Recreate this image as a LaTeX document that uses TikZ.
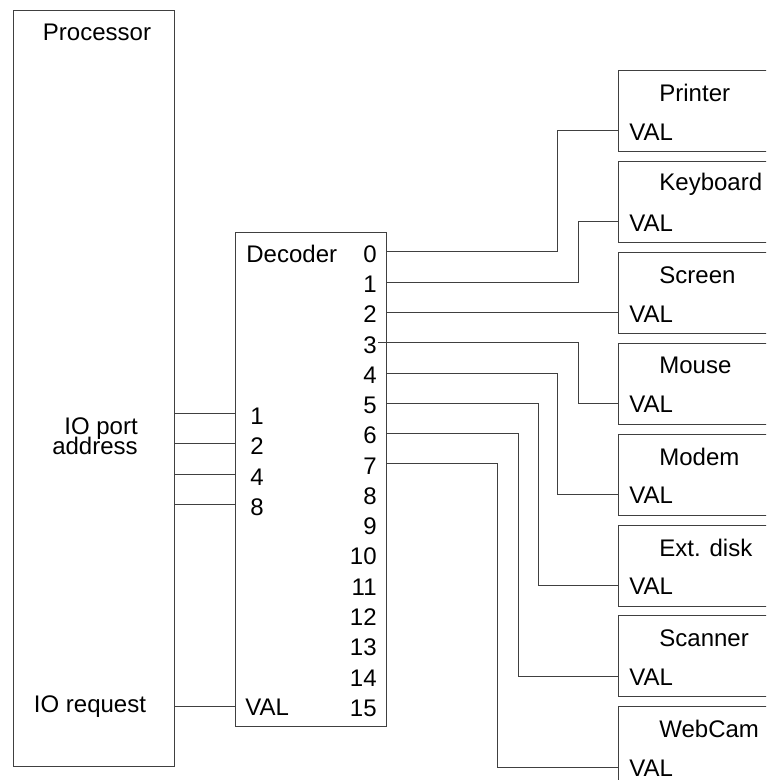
\documentclass[tikz,border=0pt]{standalone}
\usepackage{fontspec}
\setmainfont{Liberation Sans}
\usetikzlibrary{positioning, calc}

\tikzset{
  box/.style={draw=black!75, line width=0.5pt, anchor=north west, inner sep=0pt},
  wire/.style={draw=black!75, line width=0.5pt},
  pin/.style={inner sep=0pt, font=\fontsize{12}{14}\selectfont},
}

\begin{document}
\begin{tikzpicture}[x=0.5pt, y=-0.5pt, font=\fontsize{12}{14}\selectfont]
  \clip (0,0) rectangle (766,780);
  % processor
  \node[box, minimum width=161*0.5pt, minimum height=756*0.5pt] (cpu) at (13,10) {};
  \node (cpuname) at (97,32) {Processor};
  \node[align=right, font=\fontsize{12}{10}\selectfont] (cpuaddr) at (95,436) {IO port\\[-2pt]address};
  \node (cpureq) at (90,707) {IO request};
  % decoder
  \node[box, minimum width=151*0.5pt, minimum height=494*0.5pt] (dec) at (235,232) {};
  \node[pin, anchor=west] (decname) at (246,254) {Decoder};
  \foreach \i in {0,...,15} {
    \node[pin, anchor=east] (o\i) at (377, 254+30.27*\i) {\i};
  }
  \foreach \n/\y in {1/416, 2/446, 4/477, 8/507} {
    \node[pin, anchor=west] (i\n) at (250,\y) {\n};
    \draw[wire] ($(cpu.east |- i\n)+(0,-3)$) -- ($(dec.west |- i\n)+(0,-3)$);
  }
  \node[pin, anchor=west] (decval) at (245,707) {VAL};
  \draw[wire] ($(cpu.east |- decval)+(0,-1)$) -- ($(dec.west |- decval)+(0,-1)$);
  % devices
  \foreach \j/\t in {0/Printer, 1/Keyboard, 2/Screen, 3/Mouse, 4/Modem, 5/Ext. disk, 6/Scanner, 7/WebCam} {
    \node[box, minimum width=200*0.5pt, minimum height=81*0.5pt] (dev\j) at (618, 70+90.9*\j) {};
    \node[pin, anchor=west] (name\j) at (659, 93+90.9*\j) {\t};
    \node[pin, anchor=west] (val\j) at (629, 132+90.9*\j) {VAL};
  }
  % decoder outputs to devices
  \foreach \i/\bx/\dx in {0/557/0, 1/578/0, 2/578/0, 3/578/-9, 4/557/0, 5/538/0, 6/518/0, 7/497/0} {
    \draw[wire] ($(dec.east |- o\i)+(\dx,-2)$) -| ($(\bx,0 |- val\i)+(0,-1)$) -- ($(dev\i.west |- val\i)+(0,-1)$);
  }
\end{tikzpicture}
\end{document}
